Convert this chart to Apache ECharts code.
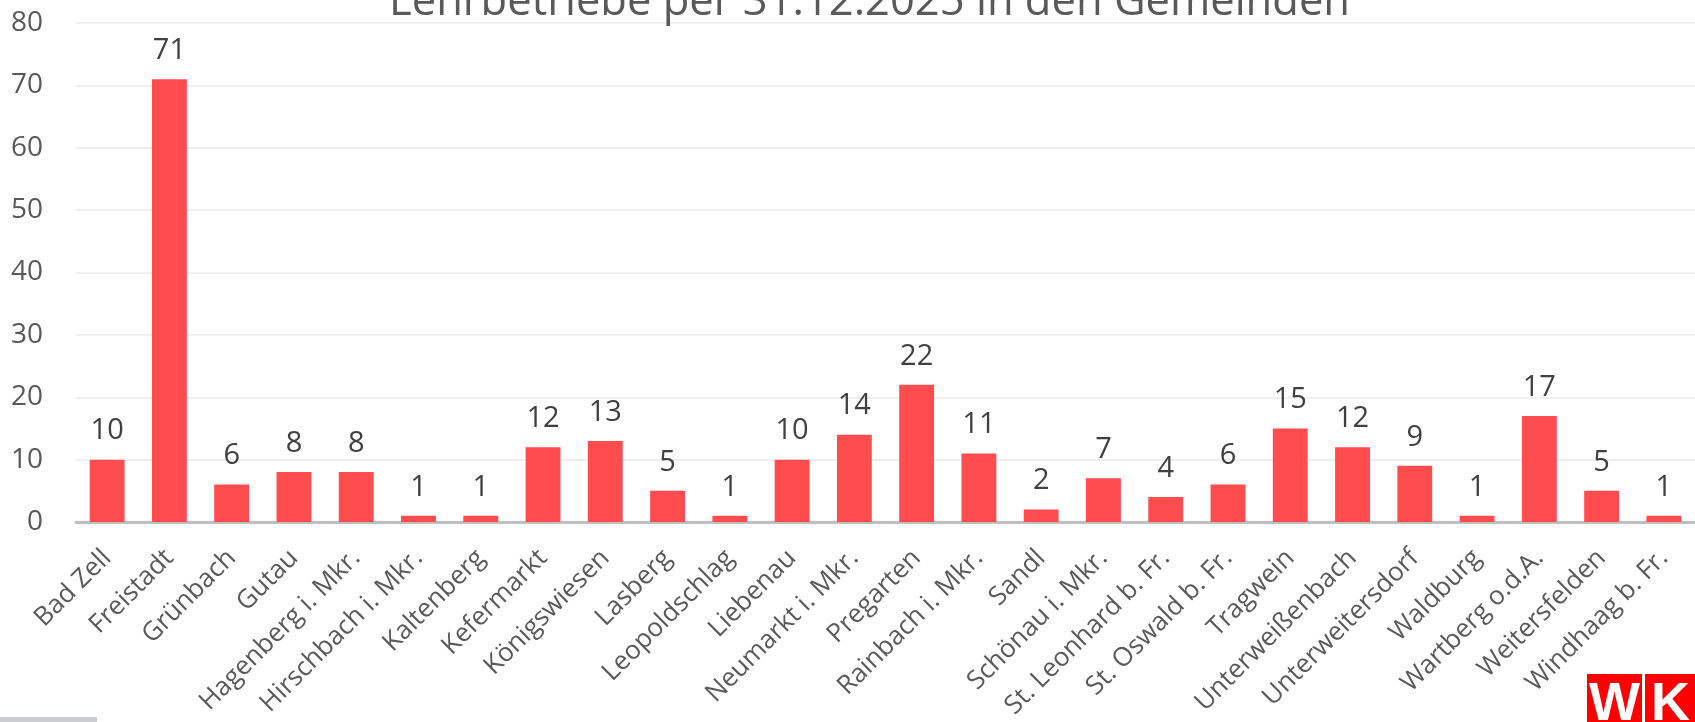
<!DOCTYPE html>
<html>
<head>
    <meta charset="utf-8">
    <title>Lehrbetriebe</title>
    <script src="https://cdn.jsdelivr.net/npm/echarts@6/dist/echarts.min.js"></script>
    <style type="text/css">
        html, body {
            margin: 0;
            padding: 0;
            background: #fff;
        }

        #main {
            width: 1695px;
            height: 722px;
        }
    </style>
</head>
<body>
<div id="main"></div>
<script>
    // Gemeinden und Anzahl Lehrbetriebe
    var gemeinden = ['Bad Zell', 'Freistadt', 'Grünbach', 'Gutau', 'Hagenberg i. Mkr.', 'Hirschbach i. Mkr.',
        'Kaltenberg', 'Kefermarkt', 'Königswiesen', 'Lasberg', 'Leopoldschlag', 'Liebenau', 'Neumarkt i. Mkr.',
        'Pregarten', 'Rainbach i. Mkr.', 'Sandl', 'Schönau i. Mkr.', 'St. Leonhard b. Fr.', 'St. Oswald b. Fr.',
        'Tragwein', 'Unterweißenbach', 'Unterweitersdorf', 'Waldburg', 'Wartberg o.d.A.', 'Weitersfelden',
        'Windhaag b. Fr.'];
    var lehrbetriebe = [10, 71, 6, 8, 8, 1, 1, 12, 13, 5, 1, 10, 14, 22, 11, 2, 7, 4, 6, 15, 12, 9, 1, 17, 5, 1];
    var yTicks = [0, 10, 20, 30, 40, 50, 60, 70, 80];

    var font = 'Open Sans';
    var myChart = echarts.init(document.getElementById('main'));

    var option = {
        animation: false,
        title: {
            text: 'Lehrbetriebe per 31.12.2025 in den Gemeinden',
            left: 384,
            top: -24,
            textStyle: {
                fontFamily: font,
                fontSize: 43.5,
                fontWeight: 'normal',
                color: '#595959'
            }
        },
        grid: {
            left: 76,
            right: 0,
            top: 23,
            bottom: 200,
            outerBoundsMode: 'none',
            containLabel: false
        },
        xAxis: {
            type: 'category',
            data: gemeinden,
            axisLine: {lineStyle: {color: '#bfbfbf', width: 3}},
            axisTick: {show: false},
            axisLabel: {
                interval: 0,
                rotate: 45,
                margin: 32,
                fontFamily: font,
                fontSize: 26,
                color: '#595959'
            }
        },
        yAxis: {
            type: 'value',
            min: yTicks[0],
            max: yTicks[yTicks.length - 1],
            interval: yTicks[1] - yTicks[0],
            axisLine: {show: false},
            axisTick: {show: false},
            splitLine: {lineStyle: {color: '#efefef', width: 2}},
            axisLabel: {
                margin: 33,
                fontFamily: font,
                fontSize: 28,
                color: '#595959'
            }
        },
        series: [{
            type: 'bar',
            data: lehrbetriebe,
            barWidth: '56%',
            itemStyle: {color: '#ff4d4f'},
            label: {
                show: true,
                position: 'top',
                distance: 14,
                fontFamily: font,
                fontSize: 29,
                color: '#404040'
            }
        }],
        graphic: [
            // grauer Balken links unten
            {type: 'rect', left: 0, top: 717, shape: {width: 97, height: 5}, style: {fill: '#c9cdd1'}},
            // WK Logo
            {type: 'rect', left: 1587, top: 674, shape: {width: 55, height: 55}, style: {fill: '#ff0000'}},
            {type: 'rect', left: 1645, top: 674, shape: {width: 50, height: 55}, style: {fill: '#ff0000'}},
            {
                type: 'text', left: 1589, top: 678,
                style: {text: 'W', fill: '#fff', font: 'bold 54px "Liberation Sans"'}
            },
            {
                type: 'text', left: 1651, top: 678,
                style: {text: 'K', fill: '#fff', font: 'bold 54px "Liberation Sans"'}
            }
        ]
    };
    myChart.setOption(option);
</script>
</body>
</html>
